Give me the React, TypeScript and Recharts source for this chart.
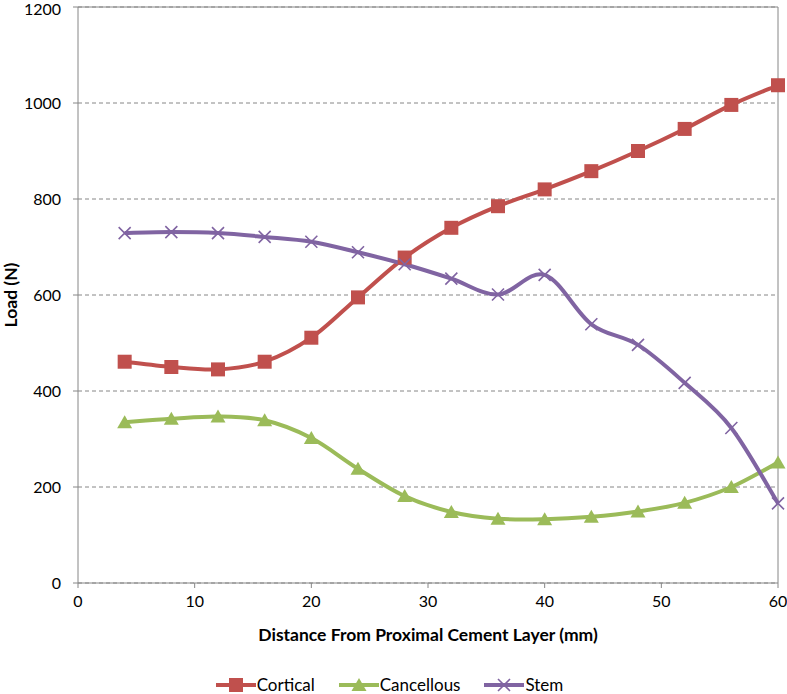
import React from 'react';
import {
  LineChart, Line, XAxis, YAxis, CartesianGrid, ReferenceLine, Legend,
} from 'recharts';

const distances = [4, 8, 12, 16, 20, 24, 28, 32, 36, 40, 44, 48, 52, 56, 60];
const cortical = [461, 450, 445, 461, 511, 595, 678, 740, 785, 820, 858, 900, 946, 996, 1037];
const cancellous = [335, 342, 347, 339, 302, 238, 181, 148, 134, 133, 138, 149, 167, 200, 251];
const stem = [729, 731, 729, 721, 711, 689, 664, 634, 601, 642, 539, 496, 417, 323, 166];

const xTicks = [0, 10, 20, 30, 40, 50, 60];
const yTicks = [0, 200, 400, 600, 800, 1000, 1200];

const RED = '#C0504D';
const GREEN = '#9BBB59';
const PURPLE = '#8064A2';
const AXIS = '#868686';
const FONT = 'Lato, "Open Sans", sans-serif';

const data = distances.map((d, i) => ({
  d,
  cortical: cortical[i],
  cancellous: cancellous[i],
  stem: stem[i],
}));

// Excel-style smoothing (Catmull-Rom through every point)
function excelCurve(ctx: any) {
  let pts: number[][] = [];
  return {
    areaStart() {},
    areaEnd() {},
    lineStart() { pts = []; },
    point(x: number, y: number) { pts.push([+x, +y]); },
    lineEnd() {
      if (!pts.length) return;
      ctx.moveTo(pts[0][0], pts[0][1]);
      for (let i = 0; i < pts.length - 1; i++) {
        const p0 = pts[i - 1] || pts[i];
        const p1 = pts[i];
        const p2 = pts[i + 1];
        const p3 = pts[i + 2] || pts[i + 1];
        ctx.bezierCurveTo(
          p1[0] + (p2[0] - p0[0]) / 6, p1[1] + (p2[1] - p0[1]) / 6,
          p2[0] - (p3[0] - p1[0]) / 6, p2[1] - (p3[1] - p1[1]) / 6,
          p2[0], p2[1],
        );
      }
    },
  };
}

function SquareDot({ cx, cy }: any) {
  if (cx == null || cy == null) return null;
  return <rect x={cx - 7} y={cy - 7} width={14} height={14} fill={RED} />;
}

function TriangleDot({ cx, cy }: any) {
  if (cx == null || cy == null) return null;
  return <path d={`M${cx},${cy - 7}L${cx + 7.5},${cy + 6}L${cx - 7.5},${cy + 6}Z`} fill={GREEN} />;
}

function CrossDot({ cx, cy }: any) {
  if (cx == null || cy == null) return null;
  return (
    <path
      d={`M${cx - 6},${cy - 6}L${cx + 6},${cy + 6}M${cx - 6},${cy + 6}L${cx + 6},${cy - 6}`}
      stroke={PURPLE}
      strokeWidth={1.6}
      fill="none"
    />
  );
}

const legendItems = [
  { name: 'Cortical', color: RED, Marker: SquareDot },
  { name: 'Cancellous', color: GREEN, Marker: TriangleDot },
  { name: 'Stem', color: PURPLE, Marker: CrossDot },
];

function ChartLegend() {
  return (
    <div
      style={{
        display: 'flex', justifyContent: 'center', gap: 23,
        fontFamily: FONT, fontSize: 17, height: 20, lineHeight: '20px',
        transform: 'translateY(1px)',
      }}
    >
      {legendItems.map(({ name, color, Marker }) => (
        <div key={name} style={{ display: 'flex', alignItems: 'center' }}>
          <svg width={42} height={20}>
            <line x1={1} y1={10} x2={41} y2={10} stroke={color} strokeWidth={4} />
            <Marker cx={21} cy={10} />
          </svg>
          <span>{name}</span>
        </div>
      ))}
    </div>
  );
}

export default function App() {
  return (
    <div style={{ position: 'absolute', left: 0, top: 0, width: 787, height: 694, background: '#fff' }}>
      <LineChart
        width={787}
        height={694}
        data={data}
        margin={{ top: 7, right: 9, bottom: 0, left: 0 }}
      >
        <CartesianGrid vertical={false} stroke={AXIS} strokeDasharray="4 3" />
        <XAxis
          dataKey="d"
          type="number"
          domain={[0, 60]}
          ticks={xTicks}
          height={91}
          stroke={AXIS}
          tickSize={5}
          tickMargin={8}
          tick={{ fill: '#000', fontSize: 16, fontFamily: FONT }}
          label={{
            value: 'Distance From Proximal Cement Layer (mm)',
            position: 'insideBottom',
            offset: 33,
            style: { fill: '#000', fontSize: 17.5, fontWeight: 'bold', fontFamily: FONT },
          }}
        />
        <YAxis
          type="number"
          domain={[0, 1200]}
          ticks={yTicks}
          width={78}
          stroke={AXIS}
          tickSize={5}
          tickMargin={12}
          tick={{ fill: '#000', fontSize: 16, fontFamily: FONT }}
          label={{
            value: 'Load (N)',
            angle: -90,
            position: 'insideLeft',
            offset: 11,
            style: { fill: '#000', fontSize: 17.5, fontWeight: 'bold', fontFamily: FONT, textAnchor: 'middle' },
          }}
        />
        <ReferenceLine y={1200} stroke={AXIS} strokeWidth={1} />
        <ReferenceLine x={60} stroke={AXIS} strokeWidth={1} />
        <Legend verticalAlign="bottom" height={20} content={<ChartLegend />} />
        <Line
          dataKey="cortical"
          name="Cortical"
          type={excelCurve as any}
          stroke={RED}
          strokeWidth={4}
          dot={<SquareDot />}
          activeDot={false}
          isAnimationActive={false}
        />
        <Line
          dataKey="cancellous"
          name="Cancellous"
          type={excelCurve as any}
          stroke={GREEN}
          strokeWidth={4}
          dot={<TriangleDot />}
          activeDot={false}
          isAnimationActive={false}
        />
        <Line
          dataKey="stem"
          name="Stem"
          type={excelCurve as any}
          stroke={PURPLE}
          strokeWidth={4}
          dot={<CrossDot />}
          activeDot={false}
          isAnimationActive={false}
        />
      </LineChart>
    </div>
  );
}
